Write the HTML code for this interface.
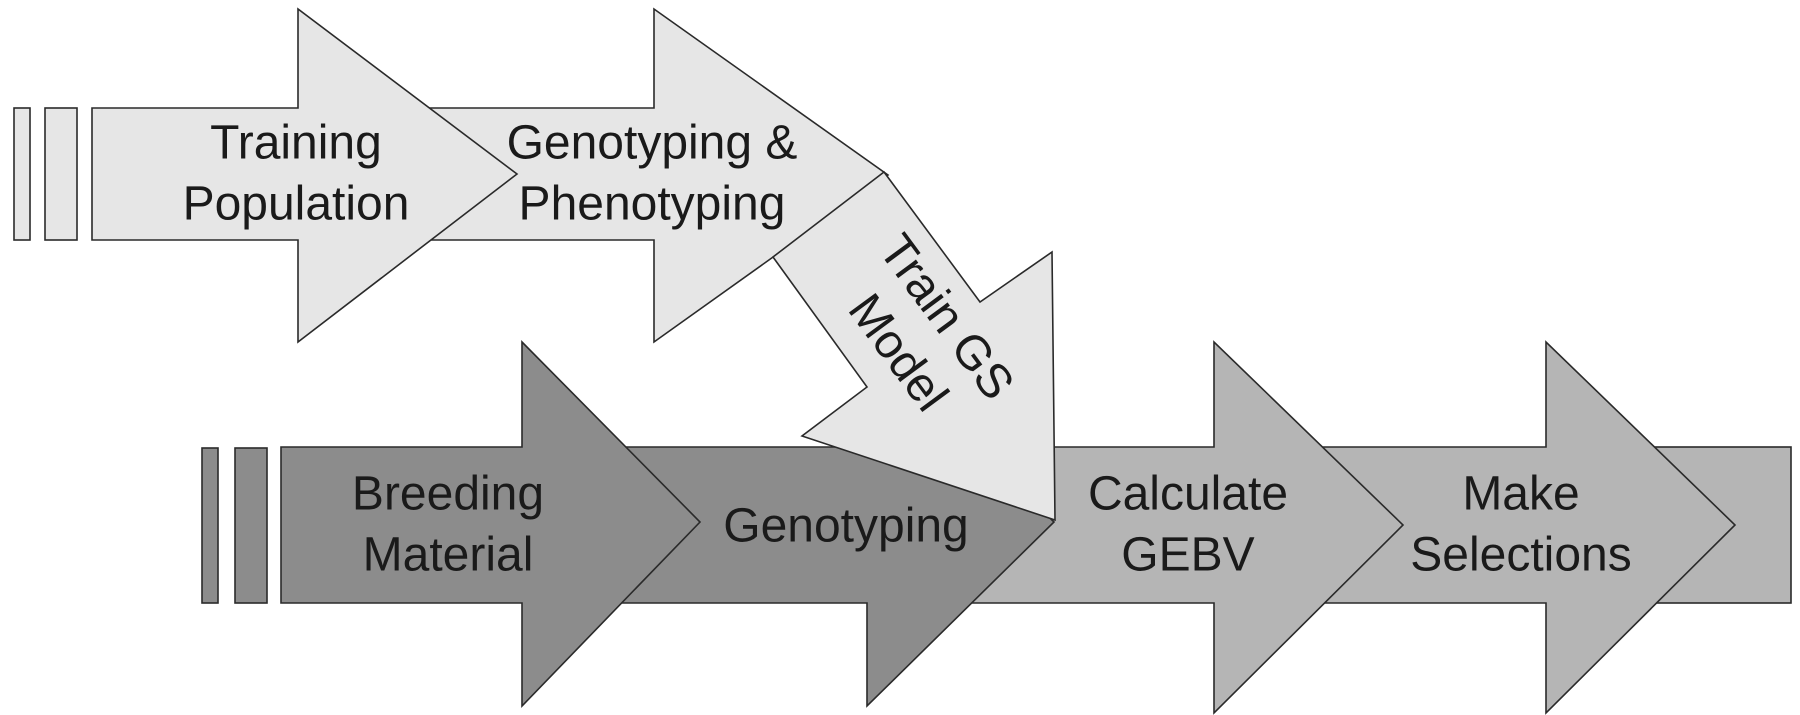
<!DOCTYPE html>
<html><head><meta charset="utf-8"><style>
html,body{margin:0;padding:0;background:#fff;}
svg{display:block;}
text{font-family:"Liberation Sans",Arial,sans-serif;font-size:48px;fill:#1a1a1a;text-anchor:middle;dominant-baseline:central;}
</style></head><body>
<svg width="1800" height="715" viewBox="0 0 1800 715" xmlns="http://www.w3.org/2000/svg">
<g stroke="#2a2a2a" stroke-width="1.6" stroke-linejoin="miter">
<!-- bottom row -->
<rect x="1650" y="447" width="141" height="156" fill="#b5b5b5"/>
<polygon points="1300,447 1546,447 1546,342 1735,525 1546,713 1546,603 1300,603" fill="#b5b5b5"/>
<polygon points="960,447 1214,447 1214,342 1403,525 1214,713 1214,603 960,603" fill="#b5b5b5"/>
<polygon points="620,447 867,447 867,342 1054,522 867,706 867,603 620,603" fill="#8c8c8c"/>
<polygon points="281,447 522,447 522,342 700,522 522,706 522,603 281,603" fill="#8c8c8c"/>
<rect x="202" y="448" width="16" height="155" fill="#8c8c8c"/>
<rect x="235" y="448" width="32" height="155" fill="#8c8c8c"/>
<!-- top row -->
<polygon points="400,108 654,108 654,9 888,175 654,342 654,240 400,240" fill="#e6e6e6"/>
<polygon points="92,108 298,108 298,9 517,174 298,342 298,240 92,240" fill="#e6e6e6"/>
<rect x="14" y="108" width="16" height="132" fill="#e6e6e6"/>
<rect x="45" y="108" width="32" height="132" fill="#e6e6e6"/>
<!-- train arrow -->
<polygon points="884,172 980,302 1052,252 1055,520 802,436 867,387 773,257" fill="#e6e6e6"/>
</g>
<text x="296" y="143">Training</text>
<text x="296" y="204">Population</text>
<text x="652" y="143">Genotyping &amp;</text>
<text x="652" y="204">Phenotyping</text>
<text x="448" y="494">Breeding</text>
<text x="448" y="555">Material</text>
<text x="846" y="526">Genotyping</text>
<text x="1188" y="494">Calculate</text>
<text x="1188" y="555">GEBV</text>
<text x="1521" y="494">Make</text>
<text x="1521" y="555">Selections</text>
<g transform="translate(922,335) rotate(53.6)">
<text x="0" y="-30">Train GS</text>
<text x="0" y="30">Model</text>
</g>
</svg>
</body></html>
